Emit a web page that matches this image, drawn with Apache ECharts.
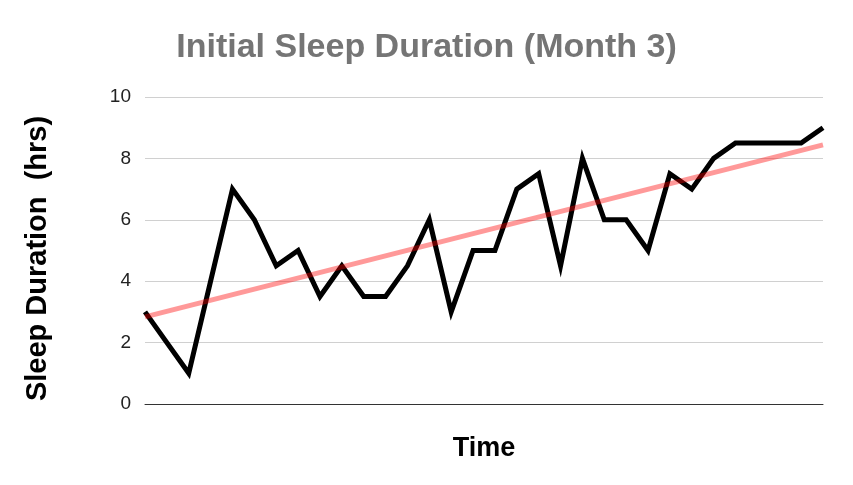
<!DOCTYPE html>
<html>
<head>
<meta charset="utf-8">
<script src="https://cdn.jsdelivr.net/npm/echarts@6/dist/echarts.min.js"></script>
<style>html,body{margin:0;padding:0;background:#fff}#c{width:853px;height:485px}</style>
</head>
<body>
<div id="c"></div>
<script>
const timePoints = ['1','2','3','4','5','6','7','8','9','10','11','12','13','14','15','16','17','18','19','20','21','22','23','24','25','26','27','28','29','30','31','32'];
const sleepHours = [3,2,1,4,7,6,4.5,5,3.5,4.5,3.5,3.5,4.5,6,3,5,5,7,7.5,4.5,8,6,6,5,7.5,7,8,8.5,8.5,8.5,8.5,9];
const trendStart = 2.84;
const trendEnd = 8.44;
const yTicks = [0,2,4,6,8,10];

const trendData = timePoints.map((_, i) => i === 0 ? trendStart : (i === timePoints.length - 1 ? trendEnd : null));

const chart = echarts.init(document.getElementById('c'), null, {renderer: 'canvas'});
chart.setOption({
  animation: false,
  backgroundColor: '#ffffff',
  title: {
    text: 'Initial Sleep Duration (Month 3)',
    left: 'center',
    top: 26,
    padding: [5, 15, 5, 5],
    textStyle: {fontFamily: 'Liberation Sans, Arial, sans-serif', fontSize: 34, fontWeight: 'bold', color: '#757575'}
  },
  grid: {left: 145, right: 30, top: 97, bottom: 81, containLabel: false},
  xAxis: {
    type: 'category',
    data: timePoints,
    boundaryGap: false,
    name: 'Time',
    nameLocation: 'middle',
    nameGap: 31,
    nameTextStyle: {fontFamily: 'Liberation Sans, Arial, sans-serif', fontSize: 27, fontWeight: 'bold', color: '#000'},
    axisLine: {show: true, lineStyle: {color: '#333333', width: 1}},
    axisTick: {show: false},
    axisLabel: {show: false},
    splitLine: {show: false}
  },
  yAxis: {
    type: 'value',
    min: yTicks[0],
    max: yTicks[yTicks.length - 1],
    interval: 2,
    name: 'Sleep Duration  (hrs)',
    nameLocation: 'middle',
    nameGap: 93,
    nameTextStyle: {fontFamily: 'Liberation Sans, Arial, sans-serif', fontSize: 29, fontWeight: 'bold', color: '#000', padding: [0, 16, 0, 0]},
    axisLine: {show: false},
    axisTick: {show: false},
    axisLabel: {fontFamily: 'Liberation Sans, Arial, sans-serif', fontSize: 19, color: '#222', margin: 14},
    splitLine: {lineStyle: {color: '#d0d0d0', width: 1}}
  },
  series: [
    {
      type: 'line',
      data: sleepHours,
      symbol: 'none',
      lineStyle: {color: '#000000', width: 5, join: 'miter'},
      z: 2
    },
    {
      type: 'line',
      data: trendData,
      connectNulls: true,
      symbol: 'none',
      lineStyle: {color: 'rgba(255,0,0,0.4)', width: 5},
      z: 3
    }
  ]
});
</script>
</body>
</html>
